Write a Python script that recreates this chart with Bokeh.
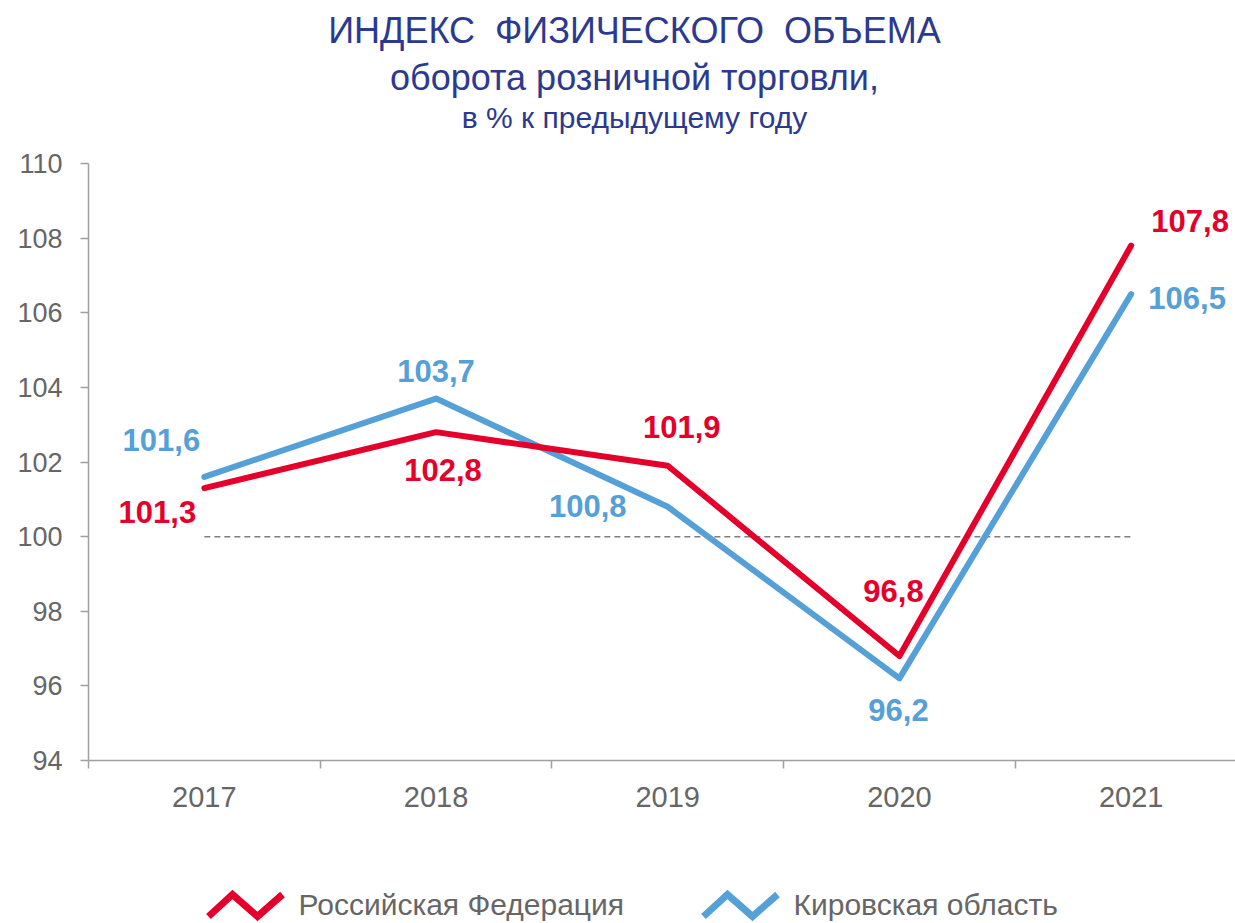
from bokeh.plotting import figure
from bokeh.models import (Range1d, LinearAxis, FixedTicker, Label, LabelSet,
                          ColumnDataSource)
from bokeh.core.properties import value
from bokeh.embed import file_html
from bokeh.resources import INLINE

# ---------------- data ----------------
years = ["2017", "2018", "2019", "2020", "2021"]
russia = [101.3, 102.8, 101.9, 96.8, 107.8]
kirov = [101.6, 103.7, 100.8, 96.2, 106.5]
baseline = 100
y_ticks = [94, 96, 98, 100, 102, 104, 106, 108, 110]
series_names = ["Российская Федерация", "Кировская область"]
title_lines = ["ИНДЕКС\u00a0\u00a0ФИЗИЧЕСКОГО\u00a0\u00a0ОБЪЕМА",
               "оборота розничной торговли,",
               "в % к предыдущему году"]

# ---------------- style ----------------
RED = "#e4002b"
BLUE = "#56a0d8"
NAVY = "#2b3990"
GREY_TXT = "#666666"
AXIS_GREY = "#a0a0a0"
FONT = "Liberation Sans"

# label offsets in pixels (right, down)
rf_off = [(-47, 24), (7, 38), (14, -39), (-6, -65), (59, -25)]
kv_off = [(-43, -37), (0, -28), (-80, -1), (-1, 32), (56, 4)]

W, H = 1235, 923
# plot-area geometry in pixels
AX_LEFT, AX_TOP, AX_BOTTOM = 88, 163, 760
CAT_W = 231.7
y_min, y_max = y_ticks[0], y_ticks[-1]
ppy = (AX_BOTTOM - AX_TOP) / (y_max - y_min)
ppx = CAT_W
x_lo = 0.5 - AX_LEFT / ppx
x_hi = x_lo + W / ppx
y_hi = y_max + AX_TOP / ppy
y_lo = y_hi - H / ppy

def px2x(px):
    return x_lo + px / ppx
def py2y(py):
    return y_hi - py / ppy

p = figure(width=W, height=H, x_range=Range1d(x_lo, x_hi), y_range=Range1d(y_lo, y_hi),
           output_backend="svg", toolbar_location=None,
           x_axis_type=None, y_axis_type=None,
           min_border_left=0, min_border_right=0,
           min_border_top=0, min_border_bottom=0)
p.outline_line_color = None
p.grid.visible = False
p.background_fill_color = "white"
p.border_fill_color = "white"

xs = list(range(1, len(years) + 1))

# axes
yaxis = LinearAxis(ticker=FixedTicker(ticks=y_ticks, minor_ticks=[]),
                   fixed_location=0.5, bounds=(y_min, y_max))
yaxis.axis_line_color = AXIS_GREY
yaxis.axis_line_width = 1.5
yaxis.major_tick_line_color = AXIS_GREY
yaxis.major_tick_line_width = 1.5
yaxis.major_tick_out = 8
yaxis.major_tick_in = 0
yaxis.minor_tick_line_color = None
yaxis.major_label_standoff = 18
yaxis.major_label_text_font = FONT
yaxis.major_label_text_font_size = "27px"
yaxis.major_label_text_color = GREY_TXT
p.add_layout(yaxis, "left")

xaxis = LinearAxis(ticker=FixedTicker(ticks=xs,
                                      minor_ticks=[x - 0.5 for x in xs] + [xs[-1] + 0.5]),
                   fixed_location=y_min, bounds=(0.5, x_hi))
xaxis.major_label_overrides = {x: y for x, y in zip(xs, years)}
xaxis.axis_line_color = AXIS_GREY
xaxis.axis_line_width = 1.5
xaxis.major_tick_line_color = None
xaxis.major_tick_out = 0
xaxis.major_tick_in = 0
xaxis.minor_tick_line_color = AXIS_GREY
xaxis.minor_tick_line_width = 1.5
xaxis.minor_tick_out = 8
xaxis.minor_tick_in = 0
xaxis.major_label_standoff = 18
xaxis.major_label_text_font = FONT
xaxis.major_label_text_font_size = "29px"
xaxis.major_label_text_color = GREY_TXT
p.add_layout(xaxis, "below")

# baseline 100
p.line([xs[0], xs[-1]], [baseline, baseline], line_color="#7f7f7f", line_width=1.5,
       line_dash="6 4")

# series lines
p.line(xs, kirov, line_color=BLUE, line_width=6, line_cap="round", line_join="round")
p.line(xs, russia, line_color=RED, line_width=6, line_cap="round", line_join="round")

def fmt(v):
    return ("%.1f" % v).replace(".", ",")

for vals, offs, col in ((russia, rf_off, RED), (kirov, kv_off, BLUE)):
    src = ColumnDataSource(dict(x=xs, y=vals, t=[fmt(v) for v in vals],
                                dx=[o[0] for o in offs], dy=[-o[1] for o in offs]))
    p.add_layout(LabelSet(x="x", y="y", text="t", source=src, x_offset="dx", y_offset="dy",
                          text_align="center", text_baseline="middle",
                          text_font=value(FONT), text_font_style="bold",
                          text_font_size="31px", text_color=col))

# title
for txt, py, size in zip(title_lines, [30, 77, 117], ["36px", "36px", "30px"]):
    p.add_layout(Label(x=px2x(634), y=py2y(py), text=txt, text_align="center",
                       text_baseline="middle", text_font=FONT, text_font_size=size,
                       text_color=NAVY))

# legend
icon_shape = [(0, 22), (24, 0), (49, 22), (74, 0)]
for name, col, ix, tx in ((series_names[0], RED, 208, 298), (series_names[1], BLUE, 703, 793)):
    p.line([px2x(ix + dx) for dx, dy in icon_shape],
           [py2y(894 + dy) for dx, dy in icon_shape],
           line_color=col, line_width=7, line_join="miter", line_cap="butt")
    p.add_layout(Label(x=px2x(tx), y=py2y(904), text=name, text_align="left",
                       text_baseline="middle", text_font=FONT, text_font_size="30px",
                       text_color=GREY_TXT))

open("out.html", "w").write(file_html(p, INLINE))
